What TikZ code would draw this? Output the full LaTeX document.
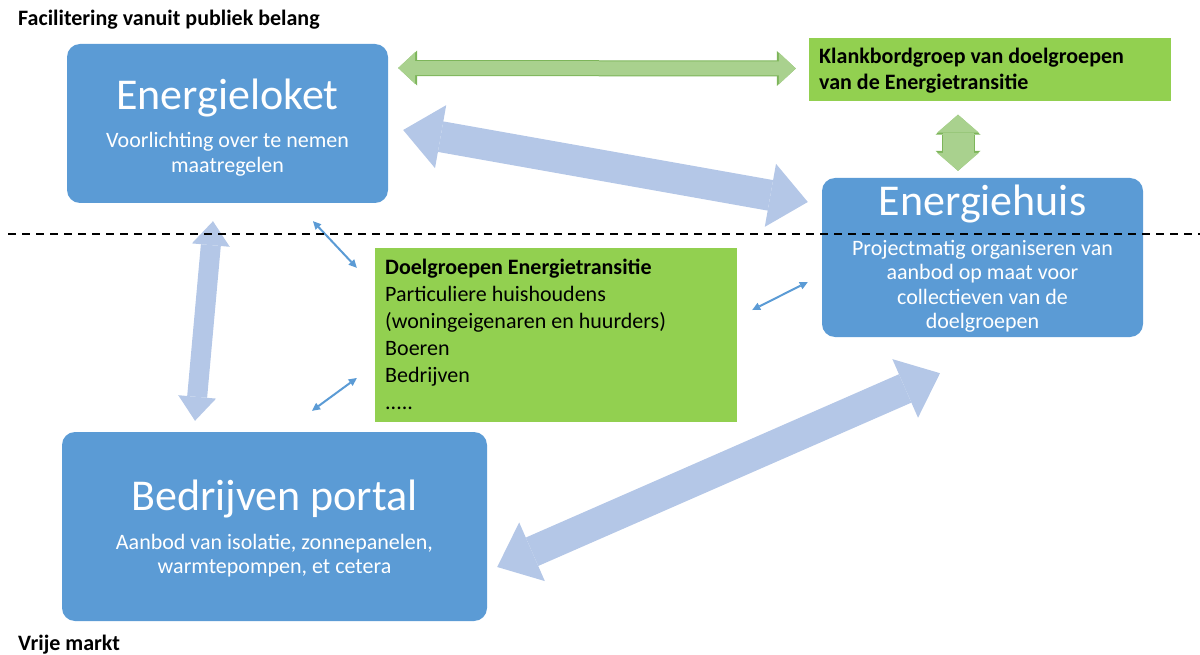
\documentclass[tikz,border=0pt]{standalone}
\usepackage{fontspec}
\setmainfont{Carlito}
\usetikzlibrary{calc,arrows.meta}

\definecolor{boxblue}{HTML}{5B9BD5}
\definecolor{flowblue}{HTML}{B4C7E7}
\definecolor{boxgreen}{HTML}{92D050}
\definecolor{flowgreen}{HTML}{A9D18E}
\definecolor{edgegreen}{HTML}{7DB55A}

\begin{document}
\begin{tikzpicture}
  [
    x=1pt, y=-1pt,
    bluebox/.style={
      fill=boxblue,
      rounded corners=13pt,
      inner sep=0pt,
    },
    greenbox/.style={
      fill=boxgreen,
      inner sep=0pt,
    },
    boxtitle/.style={
      text=white,
      font=\fontsize{44}{50}\selectfont,
      anchor=base,
      inner sep=0pt
    },
    boxtext/.style={
      text=white,
      align=center,
      anchor=base,
      inner sep=0pt
    },
    grouptext/.style={
      align=left,
      anchor=base west,
      inner sep=0pt
    },
    bandtext/.style={
      font=\bfseries\fontsize{22}{26}\selectfont,
      anchor=base west,
      inner sep=0pt
    },
    bigflow/.style={
      draw=flowblue, line width=#1,
      >={Triangle[length=38pt,width=64pt,line width=0pt]}, <->
    },
    greenflow/.style n args={3}{
      draw=flowgreen, line width=#1pt,
      >={Triangle[length=#2pt,width=#3pt,line width=0pt]}, <->,
      preaction={draw=edgegreen, line width=#1pt+2pt,
        >={Triangle[length=#2pt+2pt,width=#3pt+3pt,line width=0pt]}, <->}
    },
    smallflow/.style={
      draw=boxblue, line width=2pt,
      >={Triangle[length=8pt,width=8pt,line width=0pt]}, <->
    },
    divider/.style={
      draw=black, line width=1.6pt, dash pattern=on 8pt off 6pt
    }
  ]
\useasboundingbox (0,0) rectangle (1200,655);

% Bands
\node (publiek) [bandtext] at (18,26) {Facilitering vanuit publiek belang};
\node (markt)   [bandtext] at (18,650) {Vrije markt};

% Energieloket (text nodes sit on the baseline of their last line)
\node (loket) [bluebox, minimum width=321pt, minimum height=159pt] at (227.5,123.5) {};
\node (loket title) [boxtitle] at (227.5,110) {Energieloket};
\node (loket text) [boxtext, font=\fontsize{22}{25}\selectfont] at (227.5,173)
  {Voorlichting over te nemen\\maatregelen};

% Klankbordgroep
\node (klank) [greenbox, minimum width=362pt, minimum height=63pt] at (990,70) {};
\node (klank text) [grouptext, font=\bfseries\fontsize{22}{26}\selectfont] at (819,90)
  {Klankbordgroep van doelgroepen\\van de Energietransitie};

% Energiehuis
\node (huis) [bluebox, minimum width=321pt, minimum height=159pt] at (982.5,257.5) {};
\node (huis title) [boxtitle] at (982.5,216) {Energiehuis};
\node (huis text) [boxtext, font=\fontsize{22}{24.5}\selectfont] at (982.5,328.5)
  {Projectmatig organiseren van\\aanbod op maat voor\\collectieven van de\\doelgroepen};

% Doelgroepen
\node (doel) [greenbox, minimum width=362pt, minimum height=174pt] at (556,335) {};
\node (doel text) [grouptext, font=\fontsize{22}{27}\selectfont] at (385,409)
  {\textbf{Doelgroepen Energietransitie}\\Particuliere huishoudens\\(woningeigenaren en huurders)\\Boeren\\Bedrijven\\.....};

% Bedrijven portal
\node (portal) [bluebox, minimum width=425pt, minimum height=189pt] at (274.5,526.5) {};
\node (portal title) [boxtitle] at (274.5,510) {Bedrijven portal};
\node (portal text) [boxtext, font=\fontsize{22}{24}\selectfont] at (274.5,573)
  {Aanbod van isolatie, zonnepanelen,\\warmtepompen, et cetera};

% Big flows
\draw [bigflow=31pt] ($(loket.east)+(15,6.5)$) -- ($(huis.west)+(-14,-55.5)$);
\draw [bigflow=31pt] ($(huis.south)+(-42.5,36)$) -- ($(portal.east)+(10,40.5)$);
\draw [bigflow=20pt, >={Triangle[length=24pt,width=38pt,line width=0pt]}]
  ($(loket.south)+(-14.5,18)$) -- ($(portal.north)+(-79.5,-11)$);

% Green flows
\draw [greenflow={14}{17}{32}] ($(loket.east)+(10,-55.5)$) -- ($(klank.west)+(-13,-1.5)$);
\draw [greenflow={31}{18}{42}] ($(klank.south)+(-32,13)$) -- ($(huis.north)+(-24.5,-7)$);

% Small flows
\draw [smallflow] ($(loket.south)+(85.5,18)$) -- ($(doel.north west)+(-18,20)$);
\draw [smallflow] ($(huis.west)+(-14,24.5)$) -- ($(doel.east)+(15,-25)$);
\draw [smallflow] ($(doel.west)+(-18,43)$) -- ($(portal.north)+(37.5,-21)$);

% Split between public and market
\draw [divider] (8,234) -- (1200,234);

\end{tikzpicture}
\end{document}
